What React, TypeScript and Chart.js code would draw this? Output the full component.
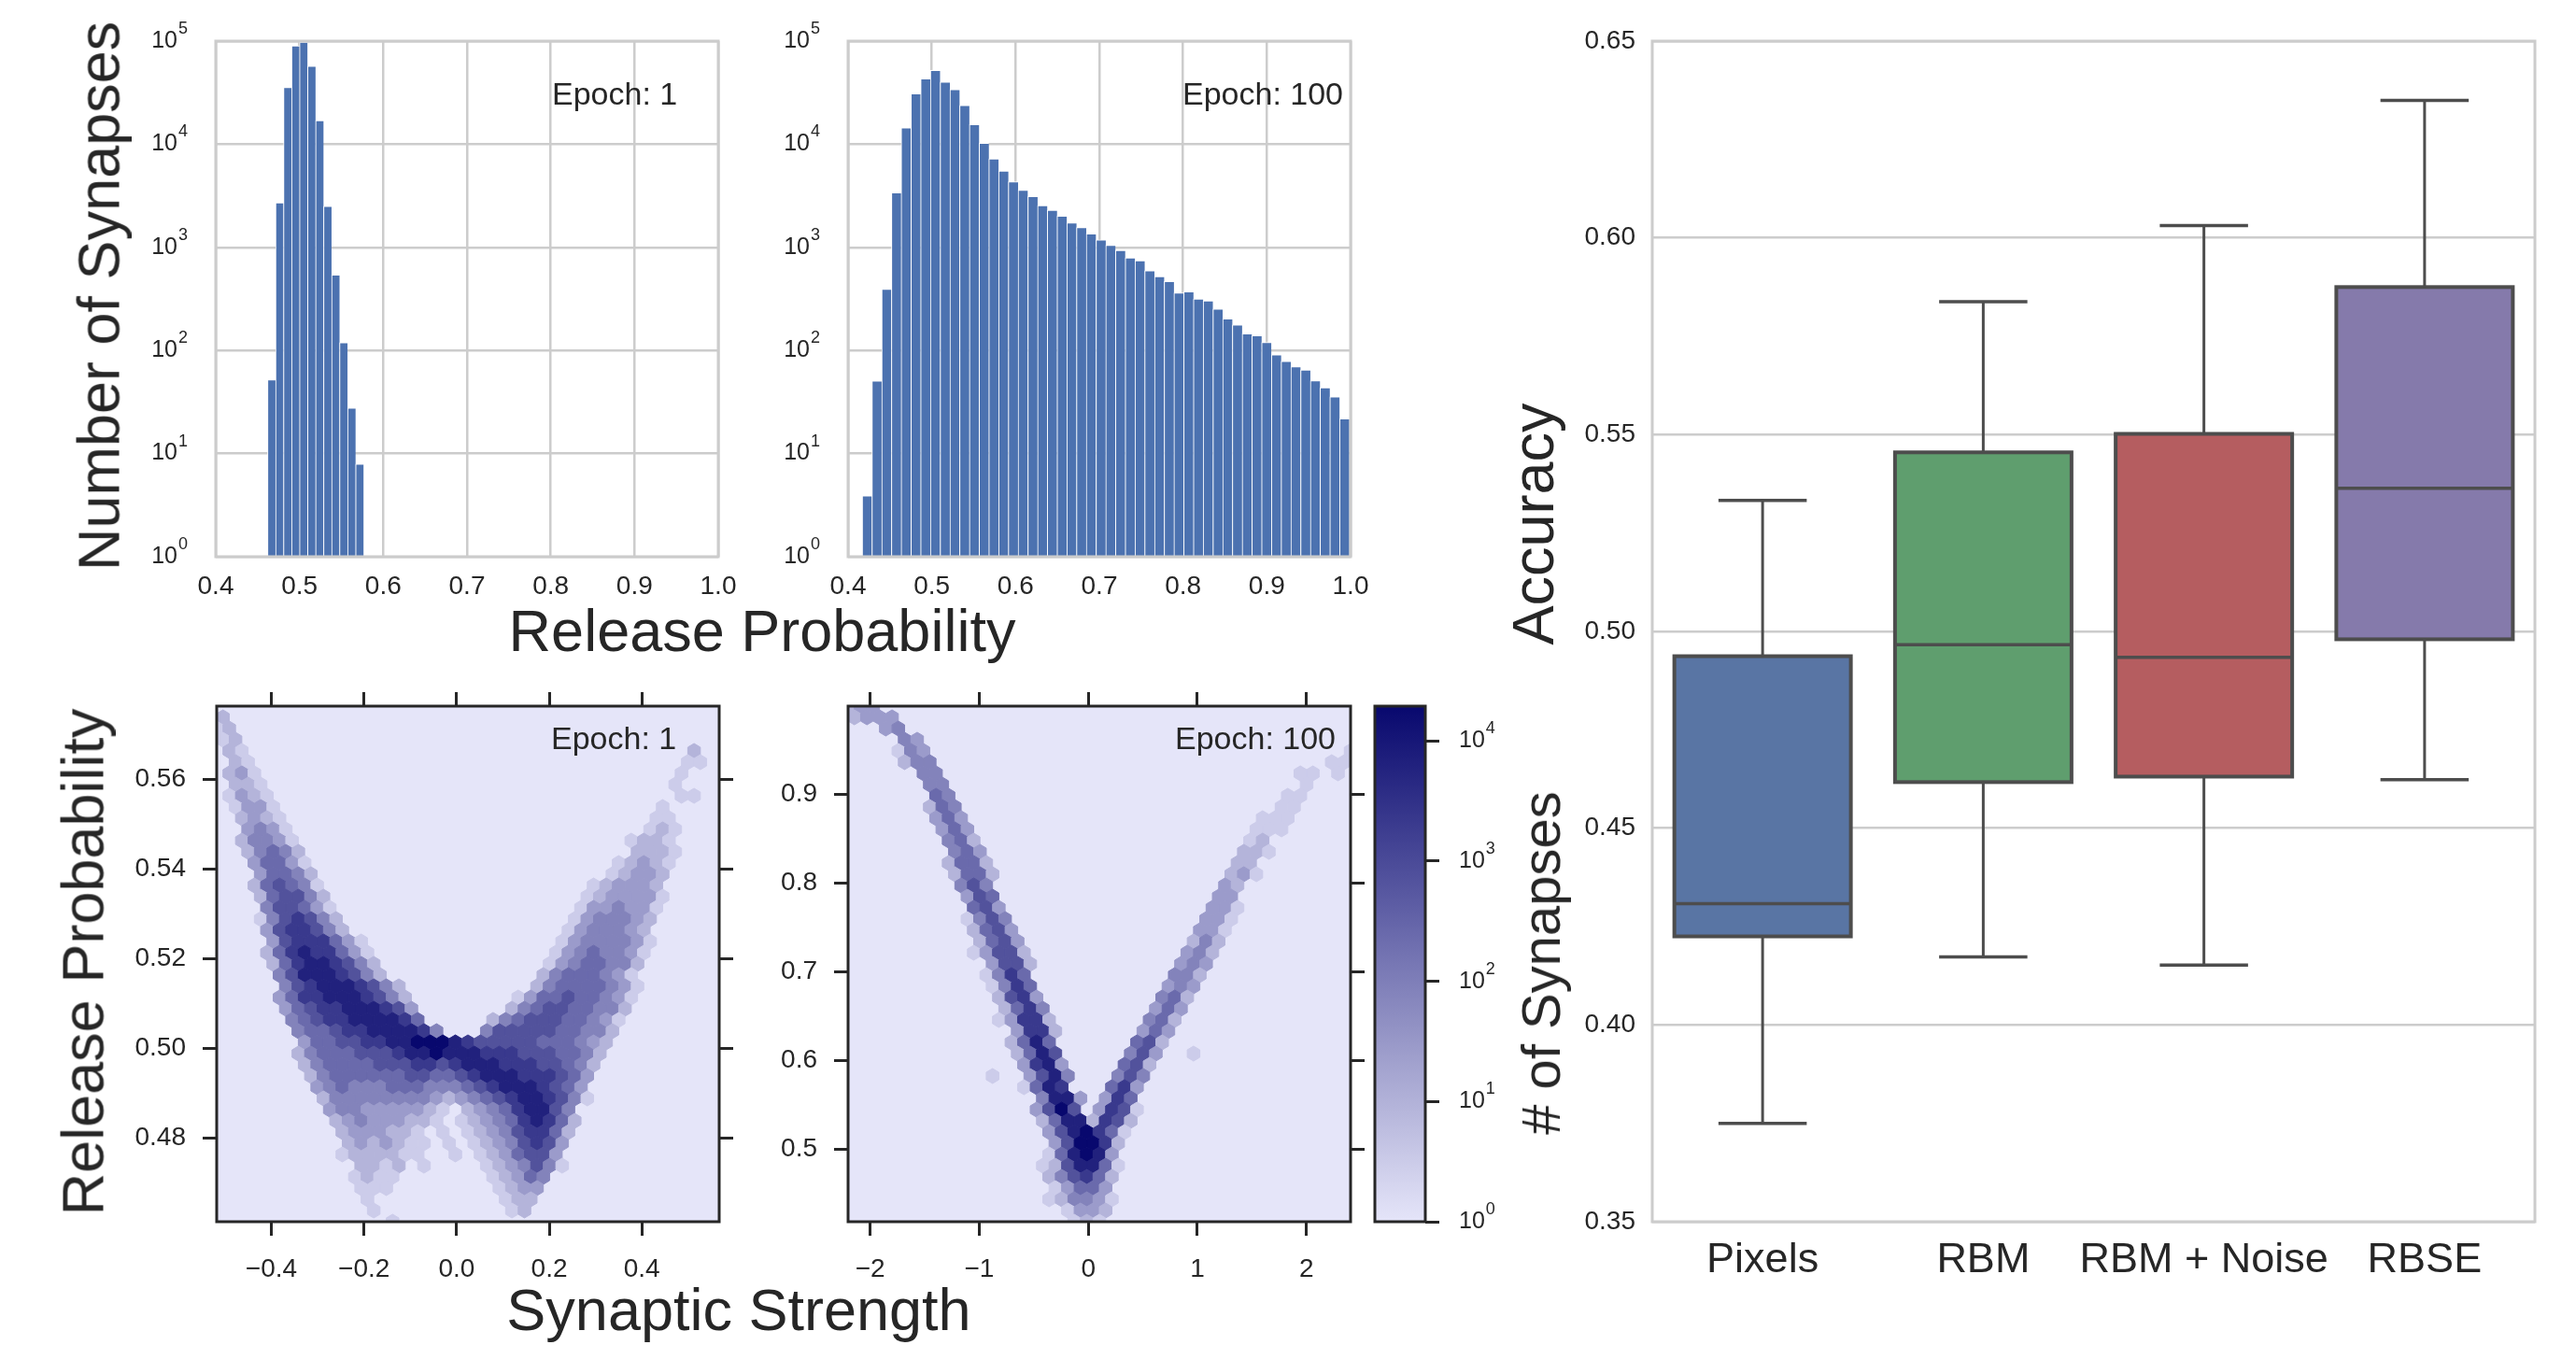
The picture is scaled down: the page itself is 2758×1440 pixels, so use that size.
import React, { useEffect, useRef } from 'react';
import { Chart, registerables } from 'chart.js';

Chart.register(...registerables);

const FONT = '"Liberation Sans", Arial, Helvetica, sans-serif';
Chart.defaults.font.family = FONT;
const INK = '#262626';
const GRID = '#cccccc';
const BOX_EDGE = '#4d4d4d';
const HIST_BLUE = '#4c72b0';

// ---------------- Histogram data ----------------
const histXTicks = [0.4, 0.5, 0.6, 0.7, 0.8, 0.9, 1.0];
const histLogExponents = [0, 1, 2, 3, 4, 5];
const epoch1BinCenters = [0.4666, 0.4762, 0.4857, 0.4953, 0.5048, 0.5144, 0.524, 0.5335, 0.5431, 0.5526, 0.5622, 0.5718];
const epoch1Counts = [52, 2700, 35500, 90000, 98000, 57000, 17000, 2500, 540, 119, 27.6, 7.9];
const epoch100BinCenters = [
  0.4227, 0.4343, 0.446, 0.4576, 0.4692, 0.4809, 0.4925, 0.5041, 0.5158, 0.5274,
  0.539, 0.5507, 0.5623, 0.5739, 0.5856, 0.5972, 0.6088, 0.6205, 0.6321, 0.6437,
  0.6554, 0.667, 0.6786, 0.6902, 0.7019, 0.7135, 0.7251, 0.7368, 0.7484, 0.76,
  0.7717, 0.7833, 0.7949, 0.8066, 0.8182, 0.8298, 0.8415, 0.8531, 0.8647, 0.8764,
  0.888, 0.8996, 0.9113, 0.9229, 0.9345, 0.9462, 0.9578, 0.9694, 0.9811, 0.9927,
];
const epoch100Counts = [
  3.9, 50.6, 394, 3390, 14400, 30900, 43200, 52100, 40100, 33900,
  23800, 15500, 10200, 7210, 5510, 4320, 3590, 3120, 2540, 2290,
  2010, 1730, 1560, 1350, 1180, 1050, 935, 792, 741, 593,
  521, 466, 362, 372, 315, 303, 252, 203, 177, 145,
  139, 120, 91, 78.5, 69.5, 64.6, 51, 43.6, 35.5, 21.7,
];

// ---------------- Hexbin data ----------------
// Each character = log-count level of one hexagon (0..9 -> 10^0 .. 10^4.29), '.' = empty.
// Rows listed from top (highest release probability) to bottom; odd rows are offset by half a cell.
const hexGridSize = [40, 23];
const hex1XRange = [-0.518, 0.567];
const hex1YRange = [0.4613, 0.5763];
const hex1XTicks = [-0.4, -0.2, 0.0, 0.2, 0.4];
const hex1XTickLabels = ['\u22120.4', '\u22120.2', '0.0', '0.2', '0.4'];
const hex1YTicks = [0.48, 0.5, 0.52, 0.54, 0.56];
const hex1YTickLabels = ['0.48', '0.50', '0.52', '0.54', '0.56'];
const hexEpoch1Rows = [
  '.......... .......... .......... .......... .',
  '2......... .......... .......... .......... .',
  '12........ .......... .......... .......... .',
  '12........ .......... .......... .......... .',
  '.21....... .......... .......... ........2. .',
  '.21....... .......... .......... .......11. .',
  '.231...... .......... .......... .......1.. .',
  '.221...... .......... .......... ......1... .',
  '.1321..... .......... .......... .......11. .',
  '.1331..... .......... .......... .....1.... .',
  '..2321.... .......... .......... .....11... .',
  '..3431.... .......... .......... ....121... .',
  '..24431... .......... .......... ...1221... .',
  '..24542... .......... .......... ...2221... .',
  '...35531.. .......... .......... ..12321... .',
  '...35542.. .......... .......... .12332.... .',
  '...256541. .......... .......... 123332.... .',
  '...256642. .......... .........1 233331.... .',
  '....466531 .......... .........1 334331.... .',
  '...1467642 .......... ........13 44432..... .',
  '....367764 2......... ........13 44432..... .',
  '....367775 31........ .......134 44431..... .',
  '....257877 531....... .......134 54431..... .',
  '....257887 642....... ......1345 5442...... .',
  '.....46888 7642...... ......2455 5431...... .',
  '.....46788 87642..... .....24555 5431...... .',
  '.....35778 887642.... ....135565 5431...... .',
  '.....35677 888763.... ...2456655 442....... .',
  '......4567 7888875... ..24566655 431....... .',
  '......4556 77888874.. .466666554 42........ .',
  '.......355 6677889998 7666665554 32........ .',
  '......2455 5666788988 8777666554 2......... .',
  '.......245 5556667767 8887776654 2......... .',
  '.......245 5555566556 7888777653 .......... .',
  '........34 5444555444 5678887653 .......... .',
  '........24 4444444323 4567887641 .......... .',
  '.........3 443333321. 234578864. .......... .',
  '.........2 34333221.1 234578752. .......... .',
  '.......... 2333221.1. 123467752. .......... .',
  '.......... 2323211.1. 12346763.. .......... .',
  '.......... 1222211..1 .1235663.. .......... .',
  '.......... .2212.1... .1234641.. .......... .',
  '.......... .1211..... ..12354... .......... .',
  '.......... .111...... ..1233.... .......... .',
  '.......... ..1....... ...122.... .......... .',
  '.......... ..1....... ...12..... .......... .',
  '.......... ....1..... .......... .......... .',
];
const hex100XRange = [-2.2025, 2.405];
const hex100YRange = [0.418, 0.999];
const hex100XTicks = [-2, -1, 0, 1, 2];
const hex100XTickLabels = ['\u22122', '\u22121', '0', '1', '2'];
const hex100YTicks = [0.5, 0.6, 0.7, 0.8, 0.9];
const hex100YTickLabels = ['0.5', '0.6', '0.7', '0.8', '0.9'];
const hexEpoch100Rows = [
  '233....... .......... .......... .......... .',
  '2333...... .......... .......... .......... .',
  '...34..... .......... .......... .......... .',
  '....43.... .......... .......... .......... .',
  '....143... .......... .......... .......... 1',
  '....244... .......... .......... ........11 .',
  '......44.. .......... .......... ......11.1 .',
  '......44.. .......... .......... ......1... .',
  '.......54. .......... .......... .....11... .',
  '......254. .......... .......... ....11.... .',
  '.......353 .......... .......... ...111.... .',
  '.......353 .......... .......... ..111..... .',
  '........45 2......... .......... ..12...... .',
  '........45 3......... .......... .221...... .',
  '........25 52........ .......... .22....... .',
  '........25 52........ .......... 231....... .',
  '.........4 64........ .......... 32........ .',
  '.........3 65........ .........3 3......... .',
  '.......... 563....... .........3 31........ .',
  '.........1 464....... ........33 1......... .',
  '.......... 2563...... ........33 1......... .',
  '.......... 2563...... .......242 .......... .',
  '.......... 13662..... .......342 .......... .',
  '.......... .3662..... ......343. .......... .',
  '.......... .1475..... ......442. .......... .',
  '.......... .1475..... .....343.. .......... .',
  '.......... ..2673.... .....452.. .......... .',
  '.......... ..2574.... ....353... .......... .',
  '.......... ..13772... ....452... .......... .',
  '.......... ...3772... ...353.... .......... .',
  '.......... ...2585... ...562.... .......... .',
  '.......... ...2586... ..463..1.. .......... .',
  '.......... ....3783.. ..562..... .......... .',
  '.......... .1..3684.. .464...... .......... .',
  '.......... ....1587.. .573...... .......... .',
  '.......... .....4883. 375....... .......... .',
  '.......... .....3696. 3761...... .......... .',
  '.......... .....25882 762....... .......... .',
  '.......... ......3689 751....... .......... .',
  '.......... ......3699 72........ .......... .',
  '.......... ......1589 83........ .......... .',
  '.......... .....12688 51........ .......... .',
  '.......... ......2467 52........ .......... .',
  '.......... ......1355 3......... .......... .',
  '.......... ......1244 31........ .......... .',
  '.......... .......133 2......... .......... .',
  '.......... ........12 1......... .......... .',
];
const colorbarExponents = [0, 1, 2, 3, 4];
const colorbarMax = 19500;

// ---------------- Box plot data ----------------
const boxCategories = ['Pixels', 'RBM', 'RBM + Noise', 'RBSE'];
const boxWhiskerLow = [0.375, 0.4173, 0.4152, 0.4623];
const boxQ1 = [0.4225, 0.4617, 0.4631, 0.498];
const boxMedian = [0.4308, 0.4966, 0.4934, 0.5364];
const boxQ3 = [0.4937, 0.5455, 0.5502, 0.5875];
const boxWhiskerHigh = [0.5333, 0.5838, 0.6031, 0.6349];
const boxColors = ['#5975a4', '#5f9e6e', '#b55d60', '#857aab'];
const boxYTicks = [0.35, 0.4, 0.45, 0.5, 0.55, 0.6, 0.65];

// ---------------- helpers ----------------
const CMAP_LO = [229, 229, 249];
const CMAP_HI = [8, 8, 110];
function cmap(t: number): string {
  const k = Math.max(0, Math.min(1, t));
  const c = CMAP_LO.map((v, i) => Math.round(v + (CMAP_HI[i] - v) * k));
  return `rgb(${c[0]},${c[1]},${c[2]})`;
}

type Margins = { l: number; t: number; r: number; b: number };
type Area = { x: number; y: number; w: number; h: number };

// fix an axis box size and cancel label-overflow padding so the plot area is exact
const fixWidth = (w: number) => (s: any) => {
  s.width = w;
  s.paddingTop = 0; s.paddingBottom = 0; s.paddingLeft = 0; s.paddingRight = 0;
};
const fixHeight = (h: number) => (s: any) => {
  s.height = h;
  s.paddingTop = 0; s.paddingBottom = 0; s.paddingLeft = 0; s.paddingRight = 0;
};

const framePlugin = (id: string, color: string, width: number) => ({
  id,
  afterDatasetsDraw(chart: any) {
    const { ctx, chartArea: a } = chart;
    ctx.save();
    ctx.strokeStyle = color;
    ctx.lineWidth = width;
    ctx.strokeRect(a.left, a.top, a.right - a.left, a.bottom - a.top);
    ctx.restore();
  },
});

const epochPlugin = (text: string, dx: number, dy: number) => ({
  id: 'epochText',
  afterDraw(chart: any) {
    const { ctx, chartArea: a } = chart;
    ctx.save();
    ctx.font = `34px ${FONT}`;
    ctx.fillStyle = INK;
    ctx.textAlign = 'left';
    ctx.textBaseline = 'alphabetic';
    ctx.fillText(text, a.left + dx, a.top + dy);
    ctx.restore();
  },
});

const logLabelsPlugin = (axisId: string, exps: number[], side: 'left' | 'right', base: number, sup: number, pad: number) => ({
  id: 'logLabels',
  afterDraw(chart: any) {
    const s = chart.scales[axisId];
    const ctx = chart.ctx;
    ctx.save();
    ctx.fillStyle = INK;
    ctx.textBaseline = 'middle';
    ctx.textAlign = 'left';
    exps.forEach((e) => {
      const y = s.getPixelForValue(Math.pow(10, e));
      ctx.font = `${sup}px ${FONT}`;
      const ws = ctx.measureText(String(e)).width;
      ctx.font = `${base}px ${FONT}`;
      const wb = ctx.measureText('10').width;
      const x0 = side === 'left' ? s.right - pad - ws - wb - 1 : s.left + pad;
      ctx.font = `${base}px ${FONT}`;
      ctx.fillText('10', x0, y);
      ctx.font = `${sup}px ${FONT}`;
      ctx.fillText(String(e), x0 + wb + 1, y - base * 0.52);
    });
    ctx.restore();
  },
});

const baseOptions = {
  animation: false,
  responsive: false,
  maintainAspectRatio: false,
  devicePixelRatio: 1,
  events: [],
};

function histConfig(centers: number[], counts: number[], epochText: string, epochDx: number, m: Margins) {
  return {
    type: 'bar',
    data: {
      datasets: [{
        data: centers.map((x, i) => ({ x, y: counts[i] })),
        backgroundColor: HIST_BLUE,
        borderColor: '#ffffff',
        borderWidth: { left: 1, right: 0, top: 1, bottom: 0 },
        barPercentage: 1,
        categoryPercentage: 1,
      }],
    },
    options: {
      ...baseOptions,
      layout: { padding: { top: m.t, right: m.r, left: 0, bottom: 0 } },
      plugins: { legend: { display: false }, tooltip: { enabled: false } },
      scales: {
        x: {
          type: 'linear', min: 0.4, max: 1.0, offset: false,
          afterBuildTicks: (s: any) => { s.ticks = histXTicks.map((v) => ({ value: v })); },
          grid: { color: GRID, lineWidth: 2.5, drawTicks: false, offset: false },
          border: { display: false },
          ticks: { autoSkip: false, maxRotation: 0, padding: 15, color: INK, font: { family: FONT, size: 28 }, callback: (v: any) => Number(v).toFixed(1) },
          afterFit: fixHeight(m.b),
        },
        y: {
          type: 'logarithmic', min: 1, max: 1e5,
          afterBuildTicks: (s: any) => { s.ticks = histLogExponents.map((e) => ({ value: Math.pow(10, e) })); },
          grid: { color: GRID, lineWidth: 2.5, drawTicks: false },
          border: { display: false },
          ticks: { callback: () => '' },
          afterFit: fixWidth(m.l),
        },
      },
    },
    plugins: [framePlugin('histFrame', GRID, 3), logLabelsPlugin('y', histLogExponents, 'left', 25, 18, 30), epochPlugin(epochText, epochDx, 68)],
  };
}

const hexCellsPlugin = (sx: number, sy: number) => ({
  id: 'hexCells',
  beforeDatasetsDraw(chart: any) {
    const { ctx, chartArea: a } = chart;
    const xs = chart.scales.x;
    const ys = chart.scales.y;
    const w = Math.abs(xs.getPixelForValue(xs.min + sx) - xs.getPixelForValue(xs.min));
    const h = Math.abs(ys.getPixelForValue(ys.min) - ys.getPixelForValue(ys.min + sy));
    ctx.save();
    ctx.beginPath();
    ctx.rect(a.left, a.top, a.right - a.left, a.bottom - a.top);
    ctx.clip();
    ctx.fillStyle = cmap(0);
    ctx.fillRect(a.left, a.top, a.right - a.left, a.bottom - a.top);
    ctx.lineWidth = 1;
    for (const p of chart.data.datasets[0].data) {
      const cx = xs.getPixelForValue(p.x);
      const cy = ys.getPixelForValue(p.y);
      const col = cmap(p.level / 9);
      ctx.fillStyle = col;
      ctx.strokeStyle = col;
      ctx.beginPath();
      ctx.moveTo(cx + w / 2, cy - h / 6);
      ctx.lineTo(cx + w / 2, cy + h / 6);
      ctx.lineTo(cx, cy + h / 3);
      ctx.lineTo(cx - w / 2, cy + h / 6);
      ctx.lineTo(cx - w / 2, cy - h / 6);
      ctx.lineTo(cx, cy - h / 3);
      ctx.closePath();
      ctx.fill();
      ctx.stroke();
    }
    ctx.restore();
  },
});

const tickGrid = { display: true, drawOnChartArea: false, drawTicks: true, tickLength: 15, tickWidth: 3, tickColor: INK };

function hexConfig(rows: string[], xr: number[], yr: number[], xt: number[], xtl: string[], yt: number[], ytl: string[], epochText: string, epochDx: number, m: Margins) {
  const [nx, ny] = hexGridSize;
  const sx = (xr[1] - xr[0]) / nx;
  const sy = (yr[1] - yr[0]) / ny;
  const cells: any[] = [];
  rows.forEach((raw, i) => {
    const row = raw.replace(/ /g, '');
    const r = rows.length - 1 - i;
    const off = r % 2 === 1 ? 0.5 : 0;
    for (let c = 0; c < row.length; c++) {
      const ch = row[c];
      if (ch === '.') continue;
      cells.push({ x: xr[0] + (c + off) * sx, y: yr[0] + (r * sy) / 2, level: Number(ch) });
    }
  });
  const font = { family: FONT, size: 28 };
  const xTicks = (s: any) => { s.ticks = xt.map((v) => ({ value: v })); };
  const yTicks = (s: any) => { s.ticks = yt.map((v) => ({ value: v })); };
  return {
    type: 'scatter',
    data: { datasets: [{ data: cells, pointRadius: 0, pointHoverRadius: 0, xAxisID: 'x', yAxisID: 'y' }] },
    options: {
      ...baseOptions,
      layout: { padding: 0 },
      plugins: { legend: { display: false }, tooltip: { enabled: false } },
      scales: {
        x: {
          type: 'linear', position: 'bottom', min: xr[0], max: xr[1], afterBuildTicks: xTicks,
          grid: tickGrid, border: { display: false },
          ticks: { autoSkip: false, maxRotation: 0, padding: 19, color: INK, font, callback: (v: any, i: number) => xtl[i] },
          afterFit: fixHeight(m.b),
        },
        x2: {
          type: 'linear', position: 'top', min: xr[0], max: xr[1], afterBuildTicks: xTicks,
          grid: tickGrid, border: { display: false }, ticks: { display: false },
          afterFit: fixHeight(m.t),
        },
        y: {
          type: 'linear', position: 'left', min: yr[0], max: yr[1], afterBuildTicks: yTicks,
          grid: tickGrid, border: { display: false },
          ticks: { autoSkip: false, padding: 18, color: INK, font, callback: (v: any, i: number) => ytl[i] },
          afterFit: fixWidth(m.l),
        },
        y2: {
          type: 'linear', position: 'right', min: yr[0], max: yr[1], afterBuildTicks: yTicks,
          grid: tickGrid, border: { display: false }, ticks: { display: false },
          afterFit: fixWidth(m.r),
        },
      },
    },
    plugins: [hexCellsPlugin(sx, sy), framePlugin('hexFrame', INK, 3), epochPlugin(epochText, epochDx, 46)],
  };
}

function colorbarConfig(m: Margins) {
  const gradientPlugin = {
    id: 'cbGradient',
    beforeDatasetsDraw(chart: any) {
      const { ctx, chartArea: a } = chart;
      const g = ctx.createLinearGradient(0, a.bottom, 0, a.top);
      for (let k = 0; k <= 10; k++) g.addColorStop(k / 10, cmap(k / 10));
      ctx.save();
      ctx.fillStyle = g;
      ctx.fillRect(a.left, a.top, a.right - a.left, a.bottom - a.top);
      ctx.restore();
    },
  };
  return {
    type: 'scatter',
    data: { datasets: [] },
    options: {
      ...baseOptions,
      layout: { padding: { left: m.l, top: m.t, bottom: m.b, right: 0 } },
      plugins: { legend: { display: false }, tooltip: { enabled: false } },
      scales: {
        x: { type: 'linear', display: false, min: 0, max: 1 },
        y: {
          type: 'logarithmic', position: 'right', min: 1, max: colorbarMax,
          afterBuildTicks: (s: any) => { s.ticks = colorbarExponents.map((e) => ({ value: Math.pow(10, e) })); },
          grid: tickGrid, border: { display: false }, ticks: { callback: () => '' },
          afterFit: fixWidth(m.r),
        },
      },
    },
    plugins: [gradientPlugin, framePlugin('cbFrame', INK, 3), logLabelsPlugin('y', colorbarExponents, 'right', 25, 18, 36)],
  };
}

const boxPlugin = {
  id: 'boxParts',
  afterDatasetsDraw(chart: any) {
    const { ctx } = chart;
    const y = chart.scales.y;
    const meta = chart.getDatasetMeta(0);
    ctx.save();
    ctx.strokeStyle = BOX_EDGE;
    ctx.lineCap = 'butt';
    const line = (x1: number, y1: number, x2: number, y2: number) => {
      ctx.beginPath(); ctx.moveTo(x1, y1); ctx.lineTo(x2, y2); ctx.stroke();
    };
    meta.data.forEach((bar: any, i: number) => {
      const cx = bar.x;
      const half = bar.width / 2;
      const yLo = y.getPixelForValue(boxWhiskerLow[i]);
      const yQ1 = y.getPixelForValue(boxQ1[i]);
      const yMed = y.getPixelForValue(boxMedian[i]);
      const yQ3 = y.getPixelForValue(boxQ3[i]);
      const yHi = y.getPixelForValue(boxWhiskerHigh[i]);
      ctx.lineWidth = 3;
      line(cx, yQ3, cx, yHi);
      line(cx, yQ1, cx, yLo);
      ctx.lineWidth = 3.5;
      line(cx - half / 2, yHi, cx + half / 2, yHi);
      line(cx - half / 2, yLo, cx + half / 2, yLo);
      line(cx - half, yMed, cx + half, yMed);
      ctx.lineWidth = 4;
      ctx.strokeRect(cx - half, yQ3, half * 2, yQ1 - yQ3);
    });
    ctx.restore();
  },
};

function boxConfig(m: Margins) {
  return {
    type: 'bar',
    data: {
      labels: boxCategories,
      datasets: [{
        data: boxQ1.map((q, i) => [q, boxQ3[i]]),
        backgroundColor: boxColors,
        borderWidth: 0,
        barPercentage: 0.8,
        categoryPercentage: 1,
      }],
    },
    options: {
      ...baseOptions,
      layout: { padding: { top: m.t, right: m.r, left: 0, bottom: 0 } },
      plugins: { legend: { display: false }, tooltip: { enabled: false } },
      scales: {
        x: {
          grid: { display: false, drawTicks: false }, border: { display: false },
          ticks: { padding: 15, color: INK, font: { family: FONT, size: 45 }, maxRotation: 0, autoSkip: false },
          afterFit: fixHeight(m.b),
        },
        y: {
          type: 'linear', min: 0.35, max: 0.65,
          afterBuildTicks: (s: any) => { s.ticks = boxYTicks.map((v) => ({ value: v })); },
          grid: { color: GRID, lineWidth: 2.5, drawTicks: false }, border: { display: false },
          ticks: { padding: 18, color: INK, font: { family: FONT, size: 28 }, callback: (v: any) => Number(v).toFixed(2) },
          afterFit: fixWidth(m.l),
        },
      },
    },
    plugins: [boxPlugin, framePlugin('boxFrame', GRID, 3)],
  };
}

function ChartCanvas({ area, m, build }: { area: Area; m: Margins; build: (m: Margins) => any }) {
  const ref = useRef<HTMLCanvasElement>(null);
  useEffect(() => {
    const chart = new Chart(ref.current as HTMLCanvasElement, build(m));
    return () => chart.destroy();
  }, []);
  const w = area.w + m.l + m.r;
  const h = area.h + m.t + m.b;
  return (
    <canvas
      ref={ref}
      width={w}
      height={h}
      style={{ position: 'absolute', left: area.x - m.l, top: area.y - m.t, width: w, height: h }}
    />
  );
}

function Label({ text, x, y, size, rotate }: { text: string; x: number; y: number; size: number; rotate?: boolean }) {
  return (
    <div
      style={{
        position: 'absolute', left: x, top: y,
        transform: `translate(-50%, -50%)${rotate ? ' rotate(-90deg)' : ''}`,
        fontFamily: FONT, fontSize: size, lineHeight: 1, color: INK, whiteSpace: 'nowrap',
      }}
    >
      {text}
    </div>
  );
}

const HIST_M: Margins = { l: 120, t: 30, r: 30, b: 70 };
const HEX_M: Margins = { l: 120, t: 20, r: 20, b: 70 };
const CB_M: Margins = { l: 5, t: 20, r: 100, b: 20 };
const BOX_M: Margins = { l: 80, t: 30, r: 30, b: 90 };

export default function App() {
  return (
    <div style={{ position: 'absolute', left: 0, top: 0, width: 2758, height: 1440, overflow: 'hidden', background: '#ffffff' }}>
      <ChartCanvas area={{ x: 231, y: 44, w: 538, h: 552 }} m={HIST_M}
        build={(m) => histConfig(epoch1BinCenters, epoch1Counts, 'Epoch: 1', 360, m)} />
      <ChartCanvas area={{ x: 908, y: 44, w: 538, h: 552 }} m={HIST_M}
        build={(m) => histConfig(epoch100BinCenters, epoch100Counts, 'Epoch: 100', 358, m)} />
      <ChartCanvas area={{ x: 232, y: 756, w: 538, h: 552 }} m={HEX_M}
        build={(m) => hexConfig(hexEpoch1Rows, hex1XRange, hex1YRange, hex1XTicks, hex1XTickLabels, hex1YTicks, hex1YTickLabels, 'Epoch: 1', 358, m)} />
      <ChartCanvas area={{ x: 908, y: 756, w: 538, h: 552 }} m={HEX_M}
        build={(m) => hexConfig(hexEpoch100Rows, hex100XRange, hex100YRange, hex100XTicks, hex100XTickLabels, hex100YTicks, hex100YTickLabels, 'Epoch: 100', 350, m)} />
      <ChartCanvas area={{ x: 1472, y: 756, w: 54, h: 552 }} m={CB_M} build={(m) => colorbarConfig(m)} />
      <ChartCanvas area={{ x: 1769, y: 44, w: 945, h: 1264 }} m={BOX_M} build={(m) => boxConfig(m)} />

      <Label text="Number of Synapses" x={106} y={317} size={63} rotate />
      <Label text="Release Probability" x={816} y={675} size={63} />
      <Label text="Release Probability" x={89} y={1030} size={63} rotate />
      <Label text="Synaptic Strength" x={791} y={1402} size={63} />
      <Label text="Accuracy" x={1641} y={561} size={63} rotate />
      <Label text="# of Synapses" x={1650} y={1031} size={58} rotate />
    </div>
  );
}
